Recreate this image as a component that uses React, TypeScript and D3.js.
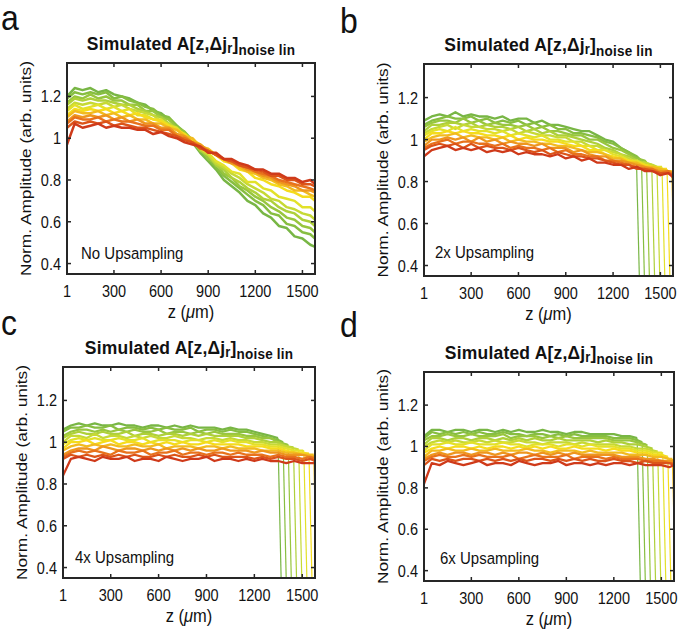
import React from "react";
import * as d3 from "d3";

// ---------- data ----------
const zKnots = [1, 50, 100, 150, 200, 250, 300, 350, 400, 450, 500, 550, 600, 650, 700, 750, 800, 850, 900, 950, 1000, 1050, 1100, 1150, 1200, 1250, 1300, 1350, 1400, 1450, 1500, 1550, 1580];
const xTicks = [1, 300, 600, 900, 1200, 1500];
const xTickLabels = ["1", "300", "600", "900", "1200", "1500"];
const yTicks = [0.4, 0.6, 0.8, 1, 1.2];
const yTickLabels = ["0.4", "0.6", "0.8", "1", "1.2"];
const panelLetters = ["a", "b", "c", "d"];
const panelNotes = ["No Upsampling", "2x Upsampling", "4x Upsampling", "6x Upsampling"];
const xDomain = [1, 1580];
const yDomain = [0.35, 1.36];

// panel a: no upsampling (line 0 = red ... line 11 = green)
const linesA = [
  [0.97,1.07,1.05,1.06,1.07,1.05,1.06,1.05,1.05,1.04,1.04,1.02,1.03,1.01,1.00,0.98,0.97,0.96,0.93,0.93,0.90,0.90,0.88,0.87,0.85,0.85,0.83,0.83,0.81,0.81,0.79,0.80,0.78],
  [1.05,1.08,1.07,1.08,1.07,1.08,1.06,1.07,1.06,1.05,1.05,1.04,1.03,1.02,1.01,0.99,0.98,0.95,0.94,0.92,0.90,0.89,0.87,0.86,0.85,0.84,0.82,0.82,0.80,0.80,0.78,0.78,0.77],
  [1.07,1.10,1.09,1.09,1.10,1.08,1.09,1.08,1.08,1.07,1.06,1.06,1.04,1.04,1.01,1.00,0.98,0.96,0.94,0.92,0.90,0.89,0.87,0.86,0.84,0.83,0.82,0.80,0.79,0.78,0.77,0.76,0.75],
  [1.08,1.11,1.10,1.11,1.10,1.11,1.09,1.10,1.08,1.09,1.07,1.07,1.05,1.05,1.02,1.01,0.98,0.97,0.94,0.92,0.90,0.88,0.87,0.85,0.84,0.82,0.81,0.79,0.78,0.77,0.75,0.75,0.74],
  [1.10,1.13,1.12,1.12,1.13,1.11,1.12,1.10,1.11,1.09,1.09,1.07,1.07,1.05,1.04,1.01,1.00,0.96,0.95,0.92,0.90,0.88,0.86,0.84,0.83,0.81,0.80,0.78,0.77,0.75,0.75,0.73,0.72],
  [1.11,1.14,1.13,1.14,1.13,1.14,1.12,1.13,1.11,1.12,1.10,1.09,1.08,1.06,1.04,1.02,0.99,0.97,0.94,0.92,0.89,0.88,0.85,0.84,0.81,0.80,0.78,0.77,0.75,0.74,0.72,0.72,0.70],
  [1.13,1.16,1.14,1.15,1.16,1.14,1.15,1.13,1.14,1.11,1.11,1.09,1.09,1.06,1.05,1.01,0.99,0.95,0.93,0.89,0.87,0.84,0.83,0.79,0.79,0.76,0.75,0.72,0.71,0.70,0.67,0.67,0.65],
  [1.14,1.17,1.16,1.17,1.16,1.17,1.15,1.16,1.14,1.13,1.12,1.11,1.08,1.07,1.04,1.02,0.98,0.95,0.92,0.88,0.86,0.83,0.81,0.78,0.76,0.74,0.71,0.70,0.67,0.66,0.64,0.63,0.61],
  [1.16,1.19,1.18,1.19,1.18,1.18,1.17,1.16,1.16,1.14,1.13,1.11,1.10,1.07,1.05,1.01,0.99,0.94,0.92,0.87,0.85,0.81,0.79,0.76,0.74,0.71,0.70,0.67,0.65,0.64,0.61,0.60,0.58],
  [1.17,1.20,1.19,1.21,1.19,1.20,1.18,1.18,1.16,1.16,1.13,1.13,1.10,1.09,1.05,1.03,0.98,0.95,0.90,0.88,0.83,0.81,0.77,0.75,0.72,0.70,0.67,0.65,0.62,0.61,0.58,0.57,0.55],
  [1.19,1.22,1.21,1.22,1.21,1.22,1.19,1.20,1.18,1.17,1.15,1.14,1.11,1.10,1.06,1.03,0.99,0.94,0.91,0.86,0.82,0.79,0.76,0.73,0.70,0.68,0.64,0.63,0.59,0.58,0.55,0.54,0.52],
  [1.20,1.24,1.23,1.24,1.22,1.23,1.21,1.20,1.19,1.17,1.16,1.13,1.12,1.09,1.06,1.02,0.98,0.93,0.89,0.85,0.80,0.77,0.74,0.70,0.68,0.64,0.62,0.58,0.57,0.53,0.52,0.49,0.48],
];
const cutZA = [null, null, null, null, null, null, null, null, null, null, null, null];
const cutLevelA = [null, null, null, null, null, null, null, null, null, null, null, null];

// panel b: 2x upsampling
const linesB = [
  [0.92,0.95,0.96,0.97,0.95,0.96,0.95,0.96,0.94,0.95,0.94,0.95,0.93,0.94,0.93,0.93,0.92,0.93,0.91,0.92,0.90,0.91,0.89,0.89,0.88,0.88,0.86,0.87,0.85,0.85,0.83,0.84,0.82],
  [0.95,0.97,0.98,0.97,0.98,0.96,0.98,0.96,0.97,0.96,0.96,0.95,0.96,0.95,0.94,0.95,0.93,0.94,0.93,0.92,0.92,0.91,0.91,0.90,0.89,0.88,0.88,0.86,0.86,0.85,0.84,0.84,0.83],
  [0.96,0.98,0.99,1.00,0.98,0.99,0.99,0.98,0.98,0.97,0.98,0.96,0.97,0.96,0.96,0.95,0.96,0.94,0.95,0.93,0.93,0.92,0.92,0.90,0.90,0.89,0.88,0.87,0.86,0.86,0.84,0.85,0.83],
  [0.97,1.00,1.00,1.01,1.00,1.01,0.99,1.01,0.99,1.00,0.98,0.99,0.98,0.98,0.97,0.98,0.96,0.96,0.96,0.94,0.95,0.93,0.92,0.92,0.90,0.90,0.89,0.88,0.87,0.86,0.85,0.85,0.84],
  [0.99,1.01,1.02,1.02,1.03,1.01,1.02,1.01,1.01,1.00,1.01,0.99,1.00,0.99,0.99,0.98,0.98,0.97,0.97,0.96,0.95,0.94,0.94,0.93,0.91,0.91,0.89,0.89,0.87,0.87,0.86,0.85],
  [1.00,1.03,1.03,1.04,1.03,1.04,1.03,1.03,1.02,1.02,1.01,1.02,1.00,1.01,1.00,1.00,0.99,0.99,0.98,0.97,0.97,0.95,0.95,0.93,0.92,0.91,0.90,0.89,0.88,0.87,0.86],
  [1.02,1.04,1.05,1.04,1.06,1.04,1.05,1.04,1.04,1.03,1.04,1.02,1.03,1.02,1.01,1.02,1.00,1.00,0.99,0.99,0.97,0.97,0.95,0.95,0.93,0.92,0.90,0.90,0.88,0.87,0.87],
  [1.03,1.05,1.06,1.07,1.05,1.07,1.06,1.06,1.05,1.05,1.04,1.05,1.03,1.04,1.03,1.02,1.02,1.01,1.01,0.99,0.99,0.97,0.97,0.95,0.94,0.93,0.91,0.89,0.89,0.88],
  [1.04,1.07,1.07,1.08,1.08,1.07,1.08,1.06,1.07,1.06,1.06,1.05,1.06,1.04,1.05,1.03,1.04,1.02,1.02,1.01,1.00,0.99,0.98,0.96,0.95,0.93,0.92,0.90,0.89],
  [1.06,1.08,1.09,1.09,1.08,1.10,1.08,1.09,1.07,1.08,1.07,1.07,1.06,1.07,1.05,1.06,1.04,1.04,1.03,1.02,1.02,1.00,1.00,0.98,0.96,0.95,0.93,0.91,0.90],
  [1.07,1.09,1.10,1.11,1.10,1.10,1.11,1.09,1.10,1.08,1.09,1.08,1.09,1.07,1.08,1.06,1.07,1.05,1.05,1.03,1.03,1.02,1.01,0.99,0.98,0.96,0.94,0.92],
  [1.09,1.11,1.12,1.11,1.13,1.11,1.12,1.11,1.11,1.10,1.11,1.09,1.10,1.10,1.08,1.09,1.07,1.07,1.06,1.05,1.04,1.04,1.02,1.00,0.99,0.96,0.94],
];
const cutZB = [null, null, null, null, 1572, 1542, 1510, 1478, 1445, 1412, 1380, 1348];
const cutLevelB = [null, null, null, null, 0.85, 0.86, 0.87, 0.87, 0.88, 0.89, 0.90, 0.91];

// panel c: 4x upsampling
const linesC = [
  [0.84,0.92,0.93,0.92,0.91,0.93,0.92,0.92,0.93,0.91,0.92,0.92,0.91,0.93,0.92,0.91,0.92,0.92,0.93,0.91,0.92,0.92,0.91,0.92,0.91,0.92,0.91,0.91,0.90,0.91,0.90,0.90,0.90],
  [0.92,0.94,0.93,0.94,0.93,0.94,0.93,0.94,0.93,0.94,0.93,0.93,0.94,0.93,0.94,0.93,0.93,0.94,0.93,0.94,0.93,0.93,0.93,0.93,0.92,0.93,0.92,0.93,0.92,0.92,0.91,0.92,0.91],
  [0.93,0.95,0.96,0.95,0.96,0.95,0.94,0.96,0.95,0.95,0.96,0.94,0.95,0.95,0.96,0.94,0.95,0.95,0.94,0.95,0.95,0.94,0.95,0.94,0.94,0.94,0.93,0.94,0.93,0.93,0.92,0.93,0.92],
  [0.94,0.96,0.97,0.97,0.96,0.98,0.97,0.96,0.97,0.97,0.96,0.97,0.96,0.97,0.96,0.97,0.96,0.97,0.96,0.96,0.97,0.96,0.96,0.96,0.95,0.96,0.95,0.95,0.94,0.94,0.94,0.93,0.93],
  [0.96,0.98,0.99,0.98,0.99,0.98,0.99,0.98,0.98,0.99,0.98,0.98,0.99,0.97,0.98,0.98,0.98,0.97,0.98,0.98,0.97,0.98,0.97,0.97,0.97,0.96,0.96,0.96,0.95,0.95,0.94,0.94],
  [0.97,1.00,1.00,1.01,0.99,1.00,1.01,0.99,1.00,1.00,0.99,1.00,0.99,1.00,0.99,1.00,0.99,0.99,1.00,0.99,0.99,0.99,0.99,0.98,0.98,0.98,0.97,0.97,0.96,0.95,0.95],
  [0.99,1.01,1.02,1.01,1.02,1.01,1.01,1.02,1.01,1.01,1.02,1.00,1.01,1.01,1.01,1.00,1.01,1.01,1.00,1.01,1.00,1.01,1.00,1.00,0.99,0.99,0.98,0.98,0.97,0.96,0.96],
  [1.00,1.03,1.03,1.02,1.04,1.02,1.03,1.03,1.02,1.03,1.02,1.03,1.02,1.02,1.03,1.02,1.02,1.01,1.02,1.02,1.01,1.02,1.01,1.01,1.00,1.00,0.99,0.99,0.98,0.97],
  [1.02,1.04,1.05,1.04,1.04,1.05,1.04,1.04,1.05,1.03,1.04,1.04,1.03,1.04,1.04,1.03,1.04,1.03,1.04,1.03,1.03,1.03,1.03,1.02,1.02,1.01,1.00,1.00,0.98],
  [1.03,1.05,1.06,1.06,1.05,1.06,1.05,1.06,1.05,1.06,1.05,1.05,1.06,1.04,1.05,1.05,1.04,1.05,1.04,1.05,1.04,1.04,1.04,1.03,1.03,1.02,1.02,1.00,0.99],
  [1.05,1.07,1.07,1.08,1.07,1.07,1.08,1.06,1.07,1.07,1.06,1.07,1.06,1.07,1.06,1.06,1.07,1.05,1.06,1.06,1.05,1.06,1.05,1.05,1.04,1.03,1.02,1.01],
  [1.06,1.08,1.09,1.08,1.09,1.08,1.08,1.09,1.08,1.08,1.07,1.08,1.08,1.07,1.08,1.07,1.08,1.07,1.07,1.07,1.06,1.07,1.06,1.06,1.05,1.04,1.03],
];
const cutZC = [null, null, null, null, 1572, 1542, 1510, 1478, 1445, 1412, 1380, 1348];
const cutLevelC = [null, null, null, null, 0.94, 0.945, 0.955, 0.965, 0.975, 0.985, 1.0, 1.02];

// panel d: 6x upsampling
const linesD = [
  [0.82,0.92,0.91,0.93,0.92,0.91,0.92,0.93,0.91,0.92,0.92,0.91,0.93,0.92,0.91,0.92,0.92,0.93,0.91,0.92,0.92,0.91,0.92,0.91,0.92,0.92,0.91,0.92,0.91,0.91,0.91,0.90,0.91],
  [0.91,0.94,0.93,0.94,0.93,0.94,0.94,0.93,0.94,0.93,0.94,0.93,0.94,0.93,0.94,0.94,0.93,0.94,0.93,0.94,0.93,0.94,0.93,0.93,0.94,0.93,0.93,0.92,0.93,0.92,0.92,0.92,0.91],
  [0.93,0.95,0.96,0.95,0.95,0.96,0.95,0.96,0.95,0.95,0.95,0.96,0.94,0.95,0.96,0.95,0.95,0.95,0.96,0.94,0.95,0.95,0.95,0.94,0.95,0.94,0.94,0.94,0.93,0.93,0.93,0.92,0.92],
  [0.94,0.96,0.97,0.96,0.97,0.97,0.96,0.97,0.97,0.96,0.97,0.96,0.97,0.97,0.96,0.97,0.96,0.97,0.96,0.97,0.96,0.96,0.96,0.96,0.96,0.95,0.95,0.95,0.94,0.94,0.93,0.93,0.93],
  [0.95,0.98,0.98,0.99,0.98,0.98,0.99,0.98,0.98,0.99,0.98,0.98,0.98,0.99,0.98,0.98,0.97,0.98,0.98,0.98,0.97,0.98,0.97,0.97,0.97,0.97,0.96,0.96,0.96,0.95,0.95,0.94],
  [0.97,0.99,1.00,0.99,1.00,1.00,0.99,1.00,0.99,1.00,1.00,0.99,1.00,0.99,1.00,0.99,1.00,0.99,0.99,1.00,0.99,0.99,0.99,0.98,0.99,0.98,0.98,0.97,0.97,0.96,0.96],
  [0.98,1.01,1.01,1.02,1.01,1.01,1.02,1.01,1.01,1.01,1.02,1.01,1.01,1.00,1.01,1.01,1.01,1.00,1.01,1.01,1.00,1.01,1.00,1.00,1.00,0.99,0.99,0.98,0.98,0.97,0.97],
  [1.00,1.02,1.03,1.02,1.03,1.02,1.02,1.03,1.02,1.03,1.02,1.02,1.03,1.02,1.02,1.01,1.02,1.02,1.02,1.01,1.02,1.01,1.01,1.01,1.01,1.00,1.00,0.99,0.99,0.98],
  [1.01,1.04,1.04,1.03,1.04,1.04,1.03,1.04,1.04,1.03,1.04,1.03,1.04,1.03,1.04,1.03,1.03,1.04,1.03,1.03,1.03,1.03,1.02,1.03,1.02,1.02,1.01,1.01,1.00],
  [1.03,1.05,1.05,1.06,1.05,1.05,1.06,1.05,1.05,1.05,1.06,1.04,1.05,1.05,1.05,1.04,1.05,1.04,1.05,1.04,1.04,1.04,1.04,1.04,1.03,1.03,1.03,1.02,1.01],
  [1.04,1.07,1.06,1.07,1.06,1.07,1.06,1.07,1.06,1.06,1.07,1.06,1.06,1.05,1.06,1.06,1.05,1.06,1.05,1.06,1.05,1.05,1.05,1.05,1.04,1.04,1.04,1.03],
  [1.05,1.08,1.08,1.07,1.08,1.08,1.07,1.08,1.08,1.07,1.08,1.07,1.08,1.07,1.07,1.08,1.07,1.07,1.06,1.07,1.07,1.06,1.06,1.06,1.06,1.05,1.05],
];
const cutZD = [null, null, null, null, 1570, 1541, 1509, 1477, 1444, 1411, 1379, 1347];
const cutLevelD = [null, null, null, null, 0.94, 0.95, 0.965, 0.975, 0.99, 1.005, 1.02, 1.04];

// ---------- style ----------
const lineColors = ["#cf3a1a", "#dc5419", "#e8721c", "#ee961e", "#f2bb1f", "#f5dc1c", "#e2e12a", "#c6d935", "#aed03a", "#98c63e", "#87be41", "#78b645"];
const FONT = "'Liberation Sans', Arial, Helvetica, sans-serif";
const STRETCH = 1.2;
const DROP_RUN = 30;
const AXIS = "#262626";

const boxes = [
  { l: 67, t: 63, r: 315, b: 274 },
  { l: 424, t: 64, r: 673, b: 276 },
  { l: 63, t: 367, r: 315, b: 578 },
  { l: 424, t: 372, r: 674, b: 581 },
];
const letterPos = [[1, 30], [340, 33], [1, 335], [340, 337]];
const notePos = [[14, 15], [11, 18], [12, 15], [16, 17]];

const panelLines = [linesA, linesB, linesC, linesD];
const panelCutZ = [cutZA, cutZB, cutZC, cutZD];
const panelCutLevel = [cutLevelA, cutLevelB, cutLevelC, cutLevelD];

function bandPoints(vals: number[], cut: number | null, level: number | null): [number, number][] {
  const pts: [number, number][] = [];
  vals.forEach((v, k) => {
    const z = zKnots[k];
    if (cut == null || z < cut) pts.push([z, v]);
  });
  if (cut != null && level != null) pts.push([cut, level]);
  return pts;
}

function dropPoints(cut: number | null, level: number | null): [number, number][] {
  if (cut == null || level == null) return [];
  return [[cut, level], [cut + DROP_RUN, 0]];
}

function SText(props: { x: number; y: number; anchor?: string; size?: number; weight?: string; stretch?: number; spacing?: number; children: React.ReactNode }) {
  const { x, y, anchor = "start", size = 14, weight = "normal", stretch = STRETCH, spacing = 0, children } = props;
  return (
    <text
      transform={`translate(${x},${y}) scale(1,${stretch})`}
      textAnchor={anchor}
      fontSize={size}
      fontWeight={weight}
      fontFamily={FONT}
      letterSpacing={spacing}
      fill="#111"
    >
      {children}
    </text>
  );
}

function Panel({ idx }: { idx: number }) {
  const box = boxes[idx];
  const x = d3.scaleLinear().domain(xDomain).range([box.l, box.r]);
  const y = d3.scaleLinear().domain(yDomain).range([box.b, box.t]);
  const line = d3
    .line<[number, number]>()
    .x((d) => x(d[0]))
    .y((d) => y(d[1]));
  const lines = panelLines[idx];
  const cuts = panelCutZ[idx];
  const levels = panelCutLevel[idx];
  const clipId = `clip-${idx}`;
  const cx = (box.l + box.r) / 2;
  const cy = (box.t + box.b) / 2;
  const order = d3.range(lines.length).reverse();
  const tickLen = 4;
  const bandWidth = idx === 0 ? 2.5 : 2.3;
  return (
    <g>
      <defs>
        <clipPath id={clipId}>
          <rect x={box.l} y={box.t} width={box.r - box.l} height={box.b - box.t} />
        </clipPath>
      </defs>
      <g clipPath={`url(#${clipId})`}>
        {order.map((i) => {
          const drop = dropPoints(cuts[i], levels[i]);
          return (
            <g key={i}>
              {drop.length > 0 && (
                <path d={line(drop) || ""} fill="none" stroke={lineColors[i]} strokeWidth={1.2} />
              )}
            </g>
          );
        })}
        {order.map((i) => (
          <path
            key={"b" + i}
            d={line(bandPoints(lines[i], cuts[i], levels[i])) || ""}
            fill="none"
            stroke={lineColors[i]}
            strokeWidth={bandWidth}
            strokeLinejoin="round"
          />
        ))}
      </g>
      {xTicks.map((t, k) => (
        <g key={"xt" + k}>
          <line x1={x(t)} x2={x(t)} y1={box.b} y2={box.b - tickLen} stroke={AXIS} strokeWidth={1.5} />
          <line x1={x(t)} x2={x(t)} y1={box.t} y2={box.t + tickLen} stroke={AXIS} strokeWidth={1.5} />
          <SText x={x(t)} y={box.b + 23} anchor="middle" size={14.5}>{xTickLabels[k]}</SText>
        </g>
      ))}
      {yTicks.map((t, k) => (
        <g key={"yt" + k}>
          <line x1={box.l} x2={box.l + tickLen} y1={y(t)} y2={y(t)} stroke={AXIS} strokeWidth={1.5} />
          <line x1={box.r} x2={box.r - tickLen} y1={y(t)} y2={y(t)} stroke={AXIS} strokeWidth={1.5} />
          <SText x={box.l - 6} y={y(t) + 6} anchor="end" size={14.5}>{yTickLabels[k]}</SText>
        </g>
      ))}
      <rect x={box.l} y={box.t} width={box.r - box.l} height={box.b - box.t} fill="none" stroke={AXIS} strokeWidth={2} />
      <SText x={cx} y={box.t - 13} anchor="middle" size={17.5} weight="bold" stretch={1.08} spacing={0.2}>
        Simulated A[z,Δj
        <tspan fontSize={13} dy={3}>r</tspan>
        <tspan dy={-3}>]</tspan>
        <tspan fontSize={13.5} dy={5}>noise lin</tspan>
      </SText>
      <SText x={cx} y={box.b + 44} anchor="middle" size={16.5} stretch={1.12}>
        z (<tspan fontStyle="italic">μ</tspan>m)
      </SText>
      <text
        transform={`translate(${box.l - 36},${cy}) scale(1,${STRETCH}) rotate(-90)`}
        textAnchor="middle"
        fontSize={14.4}
        fontFamily={FONT}
        fill="#111"
      >
        Norm. Amplitude (arb. units)
      </text>
      <SText x={box.l + notePos[idx][0]} y={box.b - notePos[idx][1]} size={15} stretch={1.12}>
        {panelNotes[idx]}
      </SText>
      <SText x={letterPos[idx][0]} y={letterPos[idx][1]} size={32} stretch={1.1}>
        {panelLetters[idx]}
      </SText>
    </g>
  );
}

export default function App() {
  return (
    <svg
      width={681}
      height={632}
      style={{ position: "absolute", left: 0, top: 0, background: "#fff" }}
    >
      <rect x={0} y={0} width={681} height={632} fill="#fff" />
      {[0, 1, 2, 3].map((i) => (
        <Panel key={i} idx={i} />
      ))}
    </svg>
  );
}
